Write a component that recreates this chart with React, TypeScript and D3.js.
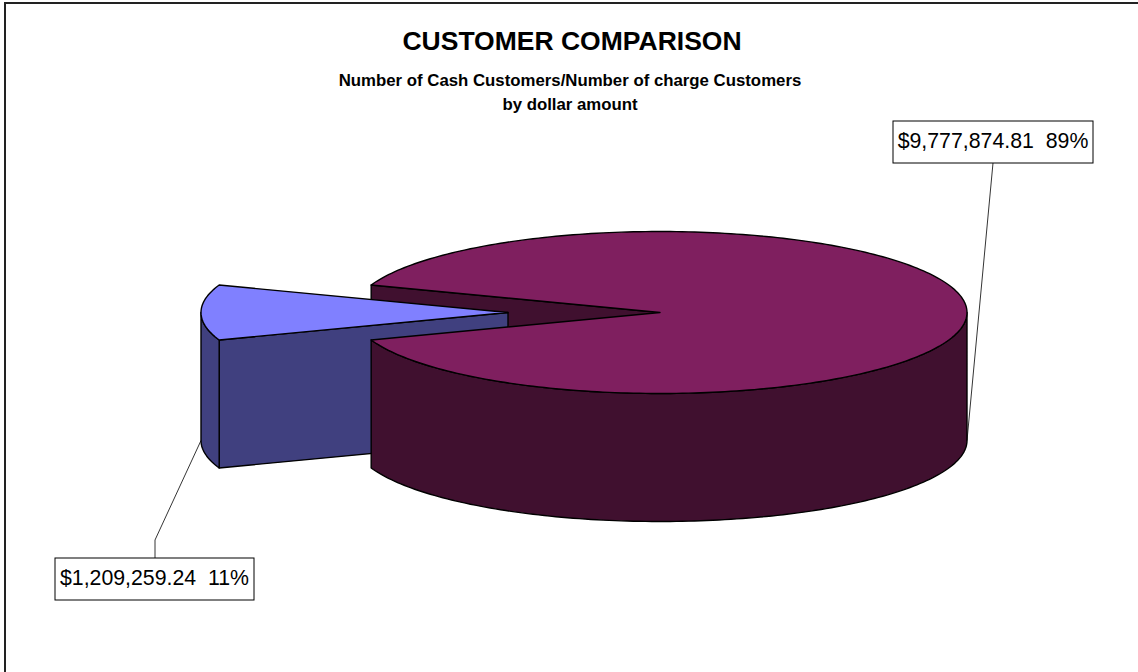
import React from "react";
import * as d3 from "d3";

// ---- data ----
const categories = ["Charge Customers", "Cash Customers"];
const values = [9777874.81, 1209259.24];
const topColors = ["#7F1F5F", "#8080FF"];
const sideColors = ["#40102F", "#40407F"];
const titleText = "CUSTOMER COMPARISON";
const subtitleLines = [
  "Number of Cash Customers/Number of charge Customers",
  "by dollar amount",
];

// ---- layout ----
const W = 1138;
const H = 672;
const cx = 660;
const cy = 312.5;
const rx = 307;
const ry = 81;
const depth = 128;
const explodeFrac = 152 / 307; // second slice pulled out
const labelBoxes = [
  { x: 893, y: 121, w: 200, h: 42, anchorX: 993, elbowY: null as number | null },
  { x: 55, y: 558, w: 199, h: 42, anchorX: 155, elbowY: 540 },
];

const FONT = "'Liberation Sans', Arial, Helvetica, sans-serif";

export default function App() {
  const total = d3.sum(values);
  const smallShare = values[1] / total;
  const bigShare = values[0] / total;
  // second slice centred at the 9 o'clock position (d3 angle 270deg)
  const start = (3 * Math.PI) / 2 - (bigShare * 2 * Math.PI + smallShare * Math.PI);
  const arcs = d3
    .pie<number>()
    .sort(null)
    .startAngle(start)
    .endAngle(start + 2 * Math.PI)(values);

  const P = (a: number, dz: number, ox = 0, oy = 0): [number, number] => [
    cx + ox + rx * Math.sin(a),
    cy + oy - ry * Math.cos(a) + dz,
  ];
  const line = d3.line<[number, number]>();
  const sample = (a0: number, a1: number, dz: number, ox: number, oy: number) => {
    const n = Math.max(2, Math.ceil(Math.abs(a1 - a0) / 0.02));
    return d3.range(n + 1).map((i) => P(a0 + ((a1 - a0) * i) / n, dz, ox, oy));
  };

  const slices = arcs.map((arc, i) => {
    const mid = (arc.startAngle + arc.endAngle) / 2;
    const ex = i === 1 ? explodeFrac : 0;
    const ox = ex * rx * Math.sin(mid);
    const oy = -ex * ry * Math.cos(mid);
    const apexTop: [number, number] = [cx + ox, cy + oy];
    const apexBot: [number, number] = [cx + ox, cy + oy + depth];
    const top = line([apexTop, ...sample(arc.startAngle, arc.endAngle, 0, ox, oy)]) + "Z";
    const walls: string[] = [];
    for (const k of [-1, 0, 1]) {
      const lo = Math.max(arc.startAngle, Math.PI / 2 + k * 2 * Math.PI);
      const hi = Math.min(arc.endAngle, (3 * Math.PI) / 2 + k * 2 * Math.PI);
      if (hi > lo) {
        const t = sample(lo, hi, 0, ox, oy);
        const b = sample(hi, lo, depth, ox, oy);
        walls.push(line([...t, ...b]) + "Z");
      }
    }
    const faces: string[] = [];
    const addFace = (a: number, normalDir: number) => {
      if (Math.cos(normalDir) < 0) {
        faces.push(
          line([apexTop, P(a, 0, ox, oy), P(a, depth, ox, oy), apexBot]) + "Z"
        );
      }
    };
    addFace(arc.startAngle, arc.startAngle - Math.PI / 2);
    addFace(arc.endAngle, arc.endAngle + Math.PI / 2);
    return { top, walls, faces, ox, oy, i, arc };
  });

  const big = slices[0];
  const small = slices[1];
  const fmtMoney = d3.format("$,.2f");
  const labelText = values.map(
    (v) => `${fmtMoney(v)}  ${Math.round((v / total) * 100)}%`
  );

  const target0 = P(Math.PI / 2, depth);
  const target1 = P((3 * Math.PI) / 2, depth, small.ox, small.oy);

  const strokeProps = { stroke: "#000", strokeWidth: 1.4, strokeLinejoin: "round" as const };

  return (
    <svg
      width={W}
      height={H}
      style={{ position: "absolute", left: 0, top: 0, background: "#fff" }}
      fontFamily={FONT}
    >
      <rect x={5} y={3} width={W + 10} height={H + 10} fill="#fff" stroke="#222" strokeWidth={2} />
      <text x={572} y={50} textAnchor="middle" fontSize={26.5} fontWeight="bold" fill="#000">
        {titleText}
      </text>
      {subtitleLines.map((s, i) => (
        <text
          key={i}
          x={570}
          y={86 + i * 24}
          textAnchor="middle"
          fontSize={16.8}
          fontWeight="bold"
          fill="#000"
        >
          {s}
        </text>
      ))}

      {big.faces.map((d, k) => (
        <path key={"bf" + k} d={d} fill={sideColors[0]} {...strokeProps} />
      ))}
      {small.faces.map((d, k) => (
        <path key={"sf" + k} d={d} fill={sideColors[1]} {...strokeProps} />
      ))}
      {small.walls.map((d, k) => (
        <path key={"sw" + k} d={d} fill={sideColors[1]} {...strokeProps} />
      ))}
      <path d={small.top} fill={topColors[1]} {...strokeProps} />
      {big.walls.map((d, k) => (
        <path key={"bw" + k} d={d} fill={sideColors[0]} {...strokeProps} />
      ))}
      <path d={big.top} fill={topColors[0]} {...strokeProps} />

      <polyline
        points={`${labelBoxes[0].anchorX},${labelBoxes[0].y + labelBoxes[0].h} ${target0[0]},${target0[1]}`}
        fill="none"
        stroke="#000"
        strokeWidth={0.8}
      />
      <polyline
        points={`${labelBoxes[1].anchorX},${labelBoxes[1].y} ${labelBoxes[1].anchorX},${labelBoxes[1].elbowY} ${target1[0]},${target1[1]}`}
        fill="none"
        stroke="#000"
        strokeWidth={0.8}
      />

      {labelBoxes.map((b, i) => (
        <g key={"lb" + i}>
          <rect x={b.x} y={b.y} width={b.w} height={b.h} fill="#fff" stroke="#000" strokeWidth={1} />
          <text
            x={b.x + b.w / 2}
            y={b.y + 27}
            textAnchor="middle"
            fontSize={21.3}
            fill="#000"
            style={{ whiteSpace: "pre" }}
          >
            {labelText[i]}
          </text>
        </g>
      ))}
    </svg>
  );
}
